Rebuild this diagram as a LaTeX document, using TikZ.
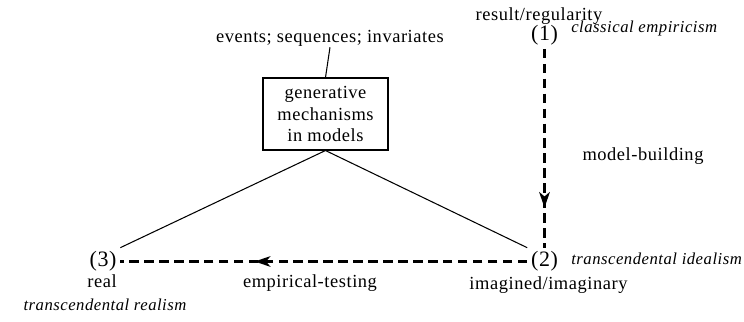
\documentclass[tikz,border=0pt]{standalone}
\usepackage{fontspec}
\setmainfont{Liberation Serif}[LetterSpace=3]
\usetikzlibrary{arrows.meta}
\usetikzlibrary{decorations.markings}

\begin{document}
\begin{tikzpicture}[>=Stealth,
    lbl/.style={font=\fontsize{10.5}{12.3}\selectfont, inner sep=0pt},
    num/.style={font=\fontsize{12.5}{14}\selectfont, inner sep=2pt},
    school/.style={font=\fontsize{9.5}{11}\selectfont\itshape, inner sep=0pt},
    dashline/.style={line width=1.3pt, dash pattern=on 5.5pt off 3pt},
    midarrow/.style={postaction={decorate}, decoration={markings,
        mark=at position #1 with {\arrow{Stealth[length=9pt,width=6pt,inset=2.5pt]}}}}
]
    % Frame of the page
    \useasboundingbox (0,0) rectangle (14.88,6.44);

    % The three positions
    \node[num] (n1) at (10.89,5.74) {(1)};
    \node[num] (n2) at (10.89,1.21) {(2)};
    \node[num] (n3) at (2.06,1.21) {(3)};

    \node[lbl, anchor=base] (res) at (10.78,6.02) {result/regularity};
    \node[school, anchor=base west] (ce) at (11.42,5.78) {classical empiricism};
    \node[lbl, anchor=base] (mb) at (12.86,3.22) {model-building};
    \node[school, anchor=base west] (ti) at (11.42,1.14) {transcendental idealism};
    \node[lbl, anchor=base] (im) at (10.97,0.64) {imagined/imaginary};
    \node[lbl, anchor=base] (et) at (6.20,0.68) {empirical-testing};
    \node[lbl, anchor=base] (real) at (2.04,0.68) {real};
    \node[school, anchor=base] (tr) at (2.10,0.22) {transcendental realism};

    % Mechanisms box and what it produces
    \node[lbl, draw, line width=0.6pt, minimum width=2.5cm, minimum height=1.44cm,
        align=center] (gm) at (6.51,4.16) {generative\\mechanisms\\in models};
    \node[lbl, anchor=base] (ev) at (6.60,5.58) {events; sequences; invariates};

    \draw[line width=0.6pt] (gm.north) -- (ev.south);
    \draw[line width=0.6pt] (n3.north east) -- (gm.south) -- (n2.north west);

    % Dashed moves between positions
    \draw[dashline, midarrow=0.8] (n1.south) -- (n2.north);
    \draw[dashline, midarrow=0.67] (n2.west) -- (n3.east);

\end{tikzpicture}
\end{document}
